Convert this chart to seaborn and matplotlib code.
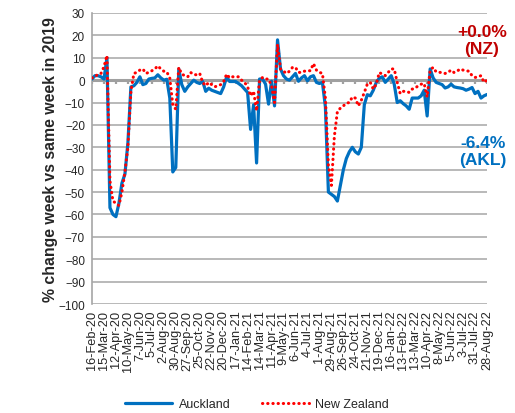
"""
Weekly spending vs 2019: Auckland vs New Zealand
"""

import pandas as pd
import matplotlib
matplotlib.use('Agg')
import matplotlib.pyplot as plt
import seaborn as sns
from matplotlib.lines import Line2D

sns.set_style("white")
plt.rcParams['font.family'] = ['Liberation Sans', 'DejaVu Sans']

# Data (weekly from 16-Feb-20 to 28-Aug-22)
start_date = '2020-02-16'

auckland = [
    0.5, 2, 2, 1.5, 0.5, 10, -57, -60, -61, -55,
    -46, -42, -28, -3, -2.5, -1, 1.5, -2, -1.5, 0.5,
    0.8, 1, 2.4, 1, 0, 0.4, -8, -41, -39, 5,
    -2, -5, -3, -1.5, 0, -1, -1.5, -0.6, -5, -3.6,
    -4.5, -5, -5.5, -6, -3, 1.5, -0.6, -0.6, -0.6, -1.5,
    -2.5, -4, -5.5, -22, -11, -37, 0.5, 0.5, -1.8, -10.7,
    -0.5, -11.5, 18, 5, 2, 0.5, 0, 1.5, 3, -0.5,
    1, 2, -0.3, 1.5, 2, -1, -1.5, -1, -12, -50,
    -51, -52, -54, -47, -40, -35, -32, -30, -32, -33,
    -30, -11, -6.5, -7, -4.5, -1, 0.9, 1.5, -1, 0.5,
    2, -1.8, -10, -9.2, -10.5, -11.5, -13, -8, -8, -8,
    -7, -4.5, -16, 5, 1, -1, -1.5, -2, -3.5, -3,
    -1.8, -3, -3.3, -3.5, -3.8, -4.5, -4, -3.3, -6, -5,
    -8, -7, -6.4,
]

new_zealand = [
    1, 1.5, 2.7, 3, 6, 11, -45, -54, -55, -56,
    -50, -41, -30, -5, 3, 3.5, 4.5, 5, 3, 3.5,
    4.2, 5, 6.4, 5, 4, 3.7, 0.9, -11, -13, 5.7,
    2.7, 2, 1.5, 3.4, 2.5, 2.4, 3, -1, -2.5, -1,
    -2, -3, -2.5, -2, -0.6, 2.7, 1, 1.5, 1.5, 1.5,
    0, -1, -3, -7, -5, -13.7, 0, 1.2, 0.5, 0.5,
    -2.5, -10, 16, 5, 4, 3, 4, 5.7, 5.7, 3.5,
    3.4, 4, 4.2, 4.2, 7.4, 4.5, 3.5, 3, -8, -38,
    -47, -25, -14, -12.5, -11.5, -10.3, -10, -7.5, -8, -11.5,
    -9, -5.5, -1.8, -1, -4, -1.8, 3.4, 2.7, 2, 3.5,
    5, 5, -1, -6, -5, -5, -5.5, -4, -3.6, -2.5,
    -1.8, -1.5, -7.5, 4.5, 5.7, 3.7, 3.5, 3.4, 3, 3.5,
    4.5, 3.4, 4, 5, 4.5, 4.2, 4, 2, 1.2, 1.5,
    2, -1, 0,
]

n_weeks = len(auckland)
weeks = pd.date_range(start_date, periods=n_weeks, freq='7D')
df = pd.DataFrame({'week': range(n_weeks), 'Auckland': auckland, 'New Zealand': new_zealand})

BLUE = '#0070C0'
RED = '#FF0000'
GRID = '#A6A6A6'

fig = plt.figure(figsize=(5.15, 4.14), dpi=100)
ax = fig.add_axes([92/515, 1 - 305/414, (487 - 92)/515, (305 - 14)/414])

# gridlines
for y in range(-100, 31, 10):
    if y != 0:
        ax.axhline(y, color=GRID, lw=1.1, zorder=0)

# zero axis line with tick stubs
tick_pos = list(range(0, n_weeks, 4))
ax.axhline(0, color='#A0A0A0', lw=2.2, zorder=1)
ax.vlines(tick_pos, -1.6, 0, color='#A0A0A0', lw=1.6, zorder=1)

sns.lineplot(data=df, x='week', y='Auckland', ax=ax, color=BLUE, lw=2.3, zorder=3)
sns.lineplot(data=df, x='week', y='New Zealand', ax=ax, color=RED, lw=2.2,
             linestyle=(0, (0.1, 1.6)), dash_capstyle='round', zorder=4)

ax.set_xlim(0, n_weeks - 1)
ax.set_ylim(-100, 30)
ax.set_yticks(range(-100, 31, 10))
ax.tick_params(axis='y', labelsize=8.5, length=3, color=GRID, pad=2)
ax.set_xticks(tick_pos)
ax.set_xticklabels([d.strftime('%-d-%b-%y') for d in weeks[::4]], rotation=90, fontsize=9.2)
ax.tick_params(axis='x', length=0, pad=4)

for s in ['top', 'right', 'bottom']:
    ax.spines[s].set_visible(False)
ax.spines['left'].set_color(GRID)
ax.spines['left'].set_linewidth(1.2)

ax.set_xlabel('')
ax.set_ylabel('% change week vs same week in 2019', fontsize=11.4, fontweight='bold')
ax.yaxis.set_label_coords(-0.087, 0.5)

# end-value annotations
fig.text(482/515, 1 - 41/414, '+0.0%\n(NZ)', color='#C00000', fontsize=12.5,
         fontweight='bold', ha='center', va='center', linespacing=1.15)
fig.text(483/515, 1 - 152/414, '-6.4%\n(AKL)', color=BLUE, fontsize=12.5,
         fontweight='bold', ha='center', va='center', linespacing=1.15)

handles = [
    Line2D([], [], color=BLUE, lw=2.3),
    Line2D([], [], color=RED, lw=2.2, linestyle=(0, (0.1, 1.6)), dash_capstyle='round'),
]
fig.legend(handles, ['Auckland', 'New Zealand'], loc='center', bbox_to_anchor=(257/515, 1 - 405/414),
           ncol=2, frameon=False, fontsize=9, handlelength=3.8, columnspacing=2.5, handletextpad=0.5)

plt.savefig('out.png', dpi=100)
